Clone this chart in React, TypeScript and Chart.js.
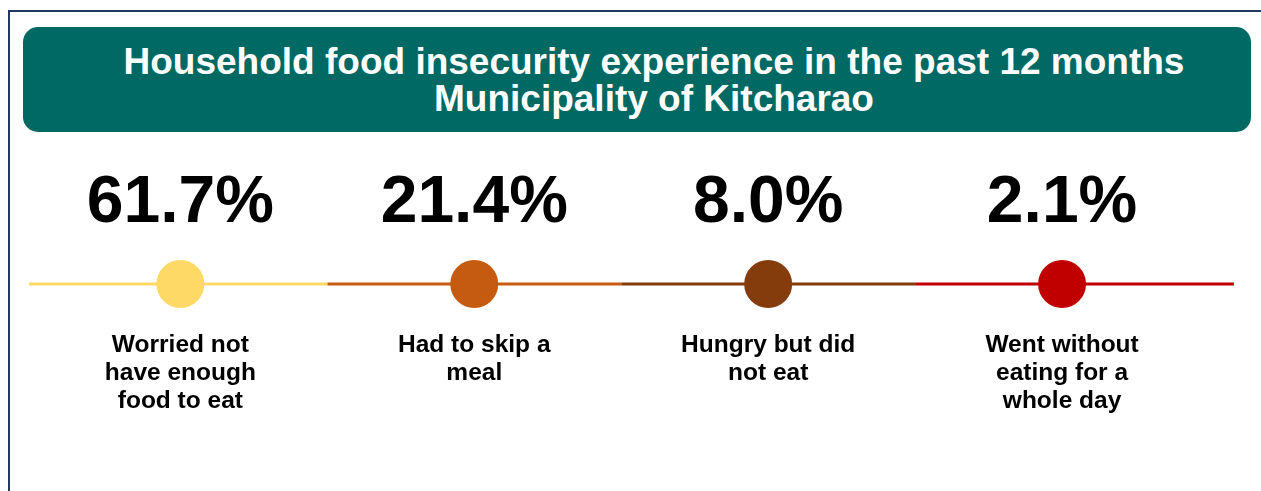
import React, { useEffect, useRef } from "react";
import { Chart, registerables } from "chart.js";

Chart.register(...registerables);

const titleLines = ["Household food insecurity experience in the past 12 months", "Municipality of Kitcharao"];
const categories: string[][] = [
  ["Worried not", "have enough", "food to eat"],
  ["Had to skip a", "meal"],
  ["Hungry but did", "not eat"],
  ["Went without", "eating for a", "whole day"],
];
const values: number[] = [61.7, 21.4, 8.0, 2.1];
const colors: string[] = ["#FFD966", "#C55A11", "#843C0C", "#C00000"];

const X_MIN = -0.515;
const X_MAX = 3.585;

const textPlugin = {
  id: "timelineText",
  afterDatasetsDraw(chart: any) {
    const ctx = chart.ctx;
    const xs = chart.scales.x;
    const ys = chart.scales.y;
    ctx.save();
    ctx.fillStyle = "#000000";
    ctx.textAlign = "center";
    ctx.textBaseline = "alphabetic";
    values.forEach((v, i) => {
      const px = xs.getPixelForValue(i);
      const py = ys.getPixelForValue(0);
      ctx.font = "bold 66px 'Liberation Sans', Arial, sans-serif";
      ctx.fillText(v.toFixed(1) + "%", px, py - 62);
      ctx.font = "bold 24.5px 'Liberation Sans', Arial, sans-serif";
      categories[i].forEach((line, j) => {
        ctx.fillText(line, px, py + 68 + j * 28);
      });
    });
    ctx.restore();
  },
};

export default function App() {
  const ref = useRef<HTMLCanvasElement>(null);

  useEffect(() => {
    document.body.style.margin = "0";
    if (!ref.current) return;
    const segDatasets = values.map((_, i) => ({
      type: "line" as const,
      data: [
        { x: i === 0 ? X_MIN : i - 0.5, y: 0 },
        { x: i === values.length - 1 ? X_MAX : i + 0.5, y: 0 },
      ],
      borderColor: colors[i],
      borderWidth: 3,
      pointRadius: 0,
      fill: false,
      order: 2,
    }));
    const pointDataset = {
      type: "scatter" as const,
      data: values.map((_, i) => ({ x: i, y: 0 })),
      backgroundColor: colors,
      pointBackgroundColor: colors,
      pointBorderWidth: 0,
      borderWidth: 0,
      pointRadius: 24,
      pointHoverRadius: 24,
      order: 1,
    };
    const chart = new Chart(ref.current, {
      type: "scatter",
      data: { datasets: [pointDataset as any, ...segDatasets] },
      options: {
        animation: false,
        responsive: false,
        events: [],
        layout: { padding: { left: 29, right: 27, top: 184, bottom: 107 } },
        plugins: { legend: { display: false }, tooltip: { enabled: false } },
        scales: {
          x: { type: "linear", min: X_MIN, max: X_MAX, display: false },
          y: { type: "linear", min: -1, max: 1, display: false },
        },
      },
      plugins: [textPlugin],
    });
    return () => chart.destroy();
  }, []);

  return (
    <div style={{ position: "relative", width: 1261, height: 491, overflow: "hidden", background: "#fff" }}>
      <div
        style={{
          position: "absolute",
          left: 8,
          top: 10,
          width: 1400,
          height: 600,
          borderLeft: "2px solid #1F3864",
          borderTop: "2px solid #1F3864",
        }}
      />
      <canvas ref={ref} width={1261} height={491} style={{ position: "absolute", left: 0, top: 0 }} />
      <div
        style={{
          position: "absolute",
          left: 23,
          top: 27,
          width: 1228,
          height: 105,
          borderRadius: 15,
          background: "#006964",
          color: "#fff",
          boxSizing: "border-box",
          paddingTop: 16,
          paddingLeft: 34,
          textAlign: "center",
          fontFamily: "'Liberation Sans', Arial, sans-serif",
          fontWeight: "bold",
          fontSize: 37,
          lineHeight: "37px",
          whiteSpace: "nowrap",
        }}
      >
        {titleLines.map((t, i) => (
          <div key={i}>{t}</div>
        ))}
      </div>
    </div>
  );
}
